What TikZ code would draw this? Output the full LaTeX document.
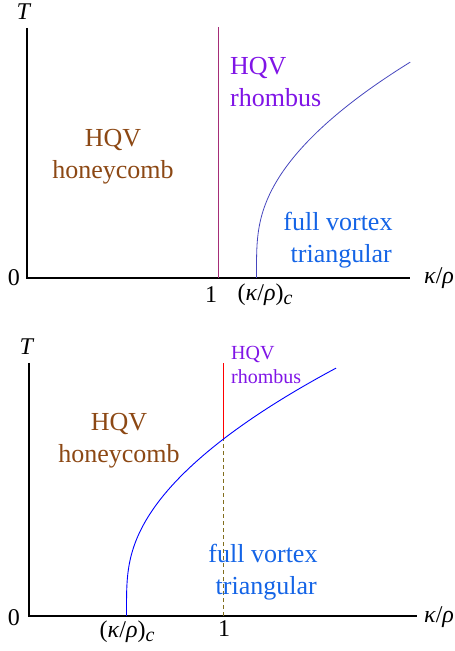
\documentclass[tikz,border=0pt]{standalone}
\usepackage{fontspec}
\setmainfont{Liberation Serif}
\usetikzlibrary{positioning}
\definecolor{honeybrown}{RGB}{140,72,20}
\definecolor{rhombpurple}{RGB}{128,20,230}
\definecolor{fullblue}{RGB}{20,100,230}
\definecolor{linemagenta}{RGB}{165,45,120}
\definecolor{curveslate}{RGB}{70,70,190}
\definecolor{dasholive}{RGB}{130,110,30}
\newcommand{\kapparho}{(\textit{κ}/\textit{ρ})\raisebox{-0.35ex}{\fontsize{20}{22}\selectfont\itshape c}}
\begin{document}
\begin{tikzpicture}[x=1pt,y=1pt,
  axisline/.style={line width=1.4pt},
  axislabel/.style={font=\fontsize{24}{26}\selectfont, inner sep=0pt},
  region/.style={font=\fontsize{26}{32}\selectfont, inner sep=0pt, align=center}]
\useasboundingbox (0,0) rectangle (455,651);
\begin{scope}[shift={(27,373)}]
\draw[axisline] (0,250) -- (0,0) -- (383,0);
\node[axislabel] (tA) at (-3,266) {\textit{T}};
\node[axislabel] (zA) at (-13,0) {0};
\node[axislabel] (kA) at (412,0) {\textit{κ}/\textit{ρ}};
\node[axislabel] (oneA) at (184,-17) {1};
\node[axislabel] (kcA) at (238,-17) {\kapparho};
\draw[linemagenta, line width=0.8pt] (191,0) -- (191,251);
\draw[curveslate, line width=0.8pt] plot[domain=0:2.16, samples=100, variable=\u] ({229.5+38.11*\u*\u*\u*\u/(\u*\u+0.7225)},{100*\u});
\node[region, text=honeybrown] (honeyA) at (86,121) {HQV\\honeycomb};
\node[region, text=rhombpurple, anchor=north west, align=left] (rhombA) at (203,221) {HQV\\rhombus};
\node[region, text=fullblue] (fullA) at (311,38) {full vortex\\\ triangular};
\end{scope}
\begin{scope}[shift={(29,35)}]
\draw[axisline] (0,253) -- (0,0) -- (388,0);
\node[axislabel] (tB) at (-2,269) {\textit{T}};
\node[axislabel] (zB) at (-15,-2) {0};
\node[axislabel] (kB) at (410,-1) {\textit{κ}/\textit{ρ}};
\node[axislabel] (oneB) at (195,-13) {1};
\node[axislabel] (kcB) at (98,-16) {\kapparho};
\draw[dasholive, line width=1pt, dash pattern=on 4pt off 3pt] (194,0) -- (194,177);
\draw[red, line width=0.8pt] (194,177) -- (194,253);
\draw[blue, line width=0.9pt] plot[domain=0:2.48, samples=100, variable=\u] ({97.5+38.11*\u*\u*\u*\u/(\u*\u+0.7225)},{100*\u});
\node[region, text=honeybrown] (honeyB) at (90,175) {HQV\\honeycomb};
\node[region, text=rhombpurple, anchor=north west, align=left, font=\fontsize{20}{24}\selectfont] (rhombB) at (202,270) {HQV\\rhombus};
\node[region, text=fullblue] (fullB) at (234,44) {full vortex\\\ triangular};
\end{scope}
\end{tikzpicture}
\end{document}
